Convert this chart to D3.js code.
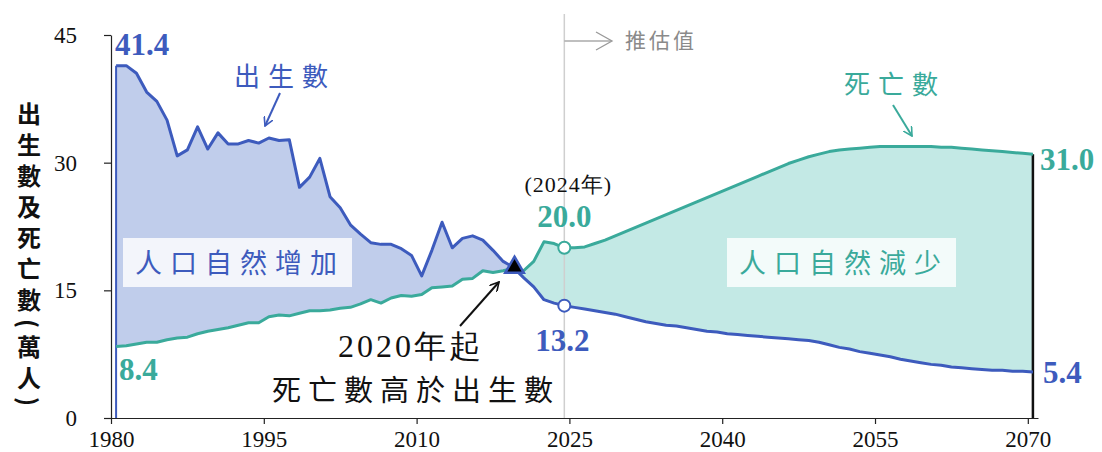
<!DOCTYPE html>
<html><head><meta charset="utf-8">
<script src="https://cdn.jsdelivr.net/npm/d3@7"></script>
<style>
html,body{margin:0;padding:0;background:#fff;}
svg{display:block;}
</style>
</head><body>
<svg id="chart" width="1102" height="452"></svg>
<script>
// ---- data ----
const years = d3.range(1980, 2071);
const births = [
  41.4,41.4,40.5,38.3,37.2,35.0,30.8,31.5,34.2,31.6,
  33.5,32.2,32.2,32.6,32.3,32.9,32.6,32.7,27.1,28.3,
  30.5,26.0,24.7,22.7,21.6,20.6,20.4,20.4,19.9,19.1,
  16.7,19.7,23.0,20.0,21.1,21.4,20.9,19.7,18.4,17.7,
  16.5,15.4,13.9,13.5,13.2,
  13.0,12.8,12.6,12.4,12.2,11.9,11.6,11.3,11.1,10.9,
  10.8,10.6,10.4,10.2,10.1,9.9,9.8,9.7,9.6,9.5,
  9.4,9.3,9.2,9.1,8.9,8.6,8.3,8.1,7.8,7.6,
  7.4,7.2,6.9,6.7,6.5,6.3,6.2,6.0,5.9,5.8,
  5.7,5.6,5.6,5.5,5.5,5.4
];
const deaths = [
  8.4,8.5,8.7,8.9,8.9,9.2,9.4,9.5,9.9,10.2,
  10.4,10.6,10.9,11.2,11.2,11.9,12.1,12.0,12.3,12.6,
  12.6,12.7,12.9,13.0,13.4,13.9,13.5,14.1,14.4,14.3,
  14.5,15.3,15.4,15.5,16.3,16.4,17.3,17.1,17.3,17.6,
  17.3,18.4,20.7,20.5,20.0,
  20.0,20.1,20.5,20.9,21.4,21.9,22.4,22.9,23.4,23.9,
  24.4,24.9,25.4,25.9,26.4,26.9,27.4,27.9,28.4,28.9,
  29.4,29.9,30.3,30.7,31.0,31.3,31.5,31.6,31.7,31.8,
  31.9,31.9,31.9,31.9,31.9,31.9,31.8,31.8,31.7,31.6,
  31.5,31.4,31.3,31.2,31.1,31.0
];
const xTicks = [1980,1995,2010,2025,2040,2055,2070];
const yTicks = [0,15,30,45];
const estimateYear = 2024;

// ---- setup ----
const BLUE = "#3d5bbd", BLUE_FILL = "#c0cdeb";
const TEAL = "#3aaa9b", TEAL_FILL = "#c3e9e5";
const SERIF = "'Liberation Serif','Times New Roman',serif";
const CJK = "'Noto Sans CJK TC','Noto Sans CJK SC',sans-serif";

const svg = d3.select("#chart");
const x = d3.scaleLinear().domain([1980, 2071]).range([111, 1038]);
const y = d3.scaleLinear().domain([0, 45]).range([418, 35]);
const px = yr => x(yr + 0.5);

const data = years.map((yr, i) => ({year: yr, b: births[i], d: deaths[i]}));

// crossing point
let cross = null;
for (let i = 0; i < data.length - 1; i++) {
  const d0 = data[i].b - data[i].d, d1 = data[i+1].b - data[i+1].d;
  if (d0 > 0 && d1 <= 0) {
    const t = d0 / (d0 - d1);
    cross = {year: data[i].year + t, v: data[i].b + t * (data[i+1].b - data[i].b)};
    break;
  }
}
const crossX = px(cross.year);

const defs = svg.append("defs");
defs.append("clipPath").attr("id","clipL").append("rect")
  .attr("x",0).attr("y",0).attr("width",crossX).attr("height",452);
defs.append("clipPath").attr("id","clipR").append("rect")
  .attr("x",crossX).attr("y",0).attr("width",1102-crossX).attr("height",452);

function arrowHead(id, color){
  defs.append("marker").attr("id",id).attr("viewBox","0 0 10 10")
    .attr("refX",9).attr("refY",5).attr("markerWidth",5).attr("markerHeight",5)
    .attr("orient","auto").attr("markerUnits","strokeWidth")
    .append("path").attr("d","M0,0 L9,5 L0,10").attr("fill","none")
    .attr("stroke",color).attr("stroke-width",1.6);
}
arrowHead("ahBlue", BLUE);
arrowHead("ahTeal", TEAL);
arrowHead("ahBlack", "#111");

const area = d3.area().x(d => px(d.year)).y0(d => y(d.d)).y1(d => y(d.b));
svg.append("path").datum(data).attr("d", area).attr("fill", BLUE_FILL).attr("clip-path","url(#clipL)");
svg.append("path").datum(data).attr("d", area).attr("fill", TEAL_FILL).attr("clip-path","url(#clipR)");

// estimate divider line
svg.append("line").attr("x1", px(estimateYear)).attr("x2", px(estimateYear))
  .attr("y1", 14).attr("y2", y(0)).attr("stroke", "#cfcfcf").attr("stroke-width", 1.5);
svg.append("line").attr("x1", px(estimateYear)).attr("x2", 611)
  .attr("y1", 41).attr("y2", 41).attr("stroke", "#aaa").attr("stroke-width", 1.3);
svg.append("path").attr("d", "M596,32 L612,41 L596,50").attr("fill","none")
  .attr("stroke","#999").attr("stroke-width",1.3);
svg.append("text").attr("x", 625).attr("y", 48).text("推估值")
  .attr("font-family", CJK).attr("font-size", 21).attr("letter-spacing", 3).attr("fill", "#8a8a8a");

// axes
const yAxis = svg.append("g").attr("transform", `translate(${x(1980)},0)`)
  .call(d3.axisLeft(y).tickValues(yTicks).tickSize(7).tickSizeOuter(0).tickPadding(27));
const xAxis = svg.append("g").attr("transform", `translate(0,${y(0)})`)
  .call(d3.axisBottom(x).tickValues(xTicks).tickSize(6).tickSizeOuter(0).tickFormat(d3.format("d")));
[yAxis, xAxis].forEach(g => {
  g.selectAll("path,line").attr("stroke", "#222").attr("stroke-width", 1.2);
  g.selectAll("text").attr("font-family", SERIF).attr("font-size", 23).attr("fill", "#111");
});
xAxis.selectAll("text").attr("y", 29).attr("dy", 0);

// left and right verticals
svg.append("line").attr("x1", px(1980)).attr("x2", px(1980))
  .attr("y1", y(births[0])).attr("y2", y(0)).attr("stroke", BLUE).attr("stroke-width", 2);
const last = data[data.length - 1];
svg.append("line").attr("x1", px(last.year)).attr("x2", px(last.year))
  .attr("y1", y(last.d)).attr("y2", y(0)).attr("stroke", "#111").attr("stroke-width", 2.5);

// lines
const lineB = d3.line().x(d => px(d.year)).y(d => y(d.b));
const lineD = d3.line().x(d => px(d.year)).y(d => y(d.d));
svg.append("path").datum(data).attr("d", lineD).attr("fill","none").attr("stroke",TEAL)
  .attr("stroke-width",3).attr("stroke-linejoin","round");
svg.append("path").datum(data).attr("d", lineB).attr("fill","none").attr("stroke",BLUE)
  .attr("stroke-width",3).attr("stroke-linejoin","round");

// crossing triangle
svg.append("path").attr("d", d3.symbol(d3.symbolTriangle, 150)())
  .attr("transform", `translate(${crossX},${y(cross.v) - 1})`)
  .attr("fill", "#000").attr("stroke", BLUE).attr("stroke-width", 2.5);

// estimate circles
const ei = years.indexOf(estimateYear);
svg.append("circle").attr("cx", px(estimateYear)).attr("cy", y(deaths[ei])).attr("r", 6)
  .attr("fill","#fff").attr("stroke",TEAL).attr("stroke-width",2);
svg.append("circle").attr("cx", px(estimateYear)).attr("cy", y(births[ei])).attr("r", 6)
  .attr("fill","#fff").attr("stroke",BLUE).attr("stroke-width",2);

// value labels
function vlabel(txt, xx, yy, color, anchor){
  svg.append("text").attr("x", xx).attr("y", yy).text(txt)
    .attr("font-family", SERIF).attr("font-weight", "bold").attr("font-size", 31)
    .attr("fill", color).attr("text-anchor", anchor || "start");
}
vlabel(births[0].toFixed(1), 115, 55, BLUE);
vlabel(deaths[0].toFixed(1), 119, 380, TEAL);
vlabel(deaths[ei].toFixed(1), px(estimateYear), 227, TEAL, "middle");
vlabel(births[ei].toFixed(1), px(estimateYear) - 2, 351, BLUE, "middle");
vlabel(last.d.toFixed(1), 1040, 170, TEAL);
vlabel(last.b.toFixed(1), 1043, 383, BLUE);

svg.append("text").attr("x", px(estimateYear) + 4).attr("y", 192).attr("text-anchor","middle")
  .attr("font-family", SERIF).attr("font-size", 22).attr("letter-spacing", 1).attr("fill","#111")
  .text(`(${estimateYear}年)`);

// area label boxes
function boxLabel(txt, bx, color){
  svg.append("rect").attr("x", bx).attr("y", 238).attr("width", 229).attr("height", 49)
    .attr("fill", "#fff").attr("fill-opacity", 0.8);
  svg.append("text").attr("x", bx + 12).attr("y", 273).text(txt)
    .attr("font-family", CJK).attr("font-size", 27).attr("letter-spacing", 8).attr("fill", color);
}
boxLabel("人口自然增加", 123, BLUE);
boxLabel("人口自然減少", 727, TEAL);

// series name labels
svg.append("text").attr("x", 234).attr("y", 86).text("出生數")
  .attr("font-family", CJK).attr("font-size", 26).attr("letter-spacing", 8).attr("fill", BLUE);
svg.append("line").attr("x1", 280).attr("y1", 93).attr("x2", 265).attr("y2", 126)
  .attr("stroke", BLUE).attr("stroke-width", 2).attr("marker-end", "url(#ahBlue)");
svg.append("text").attr("x", 844).attr("y", 94).text("死亡數")
  .attr("font-family", CJK).attr("font-size", 26).attr("letter-spacing", 8).attr("fill", TEAL);
svg.append("line").attr("x1", 893).attr("y1", 105).attr("x2", 912).attr("y2", 136)
  .attr("stroke", TEAL).attr("stroke-width", 2).attr("marker-end", "url(#ahTeal)");

// annotation
svg.append("text").attr("x", 338).attr("y", 357).text("2020年起")
  .attr("font-family", SERIF).attr("font-size", 32).attr("letter-spacing", 3).attr("fill", "#111");
svg.append("text").attr("x", 272).attr("y", 401).text("死亡數高於出生數")
  .attr("font-family", CJK).attr("font-size", 29).attr("letter-spacing", 7).attr("fill", "#111");
svg.append("line").attr("x1", 460).attr("y1", 326).attr("x2", 499).attr("y2", 282)
  .attr("stroke", "#111").attr("stroke-width", 2).attr("marker-end", "url(#ahBlack)");

// y axis title (vertical)
svg.append("text").attr("x", 29).attr("y", 102).text("出生數及死亡數(萬人)")
  .attr("font-family", CJK).attr("font-weight", "bold").attr("font-size", 24)
  .attr("letter-spacing", 7).attr("fill", "#111")
  .style("writing-mode", "vertical-rl");
</script>
</body></html>
